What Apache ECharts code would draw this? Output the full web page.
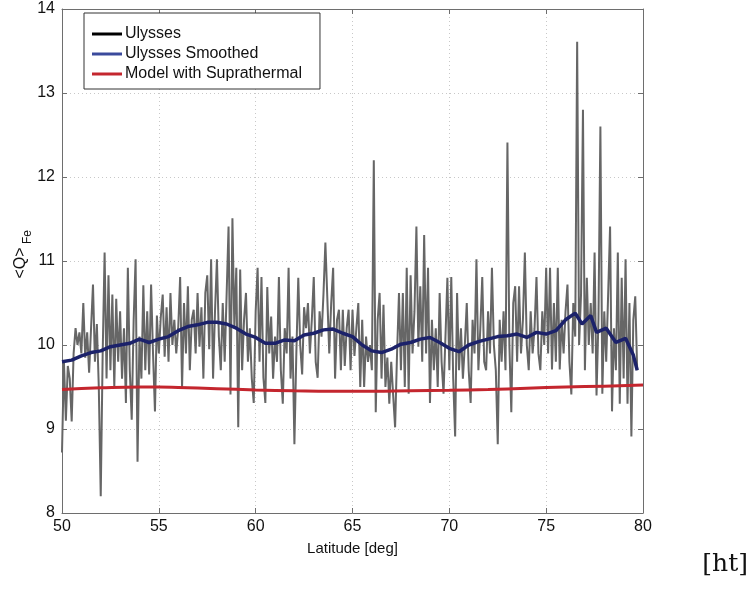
<!DOCTYPE html>
<html>
<head>
<meta charset="utf-8">
<script src="https://cdn.jsdelivr.net/npm/echarts@6/dist/echarts.min.js"></script>
<style>
  html, body { margin: 0; padding: 0; background: #fff; }
  #chart { width: 756px; height: 592px; }
</style>
</head>
<body>
<div id="chart"></div>
<script>
// Mean Fe charge state along the Ulysses trajectory, 50-80 deg latitude.

// Raw Ulysses samples: uniform latitude grid starting at 50.0 deg, 0.1 deg apart
const ulyssesLatStart = 50.0;
const ulyssesLatStep = 0.1;
const ulyssesQ = [
  8.72, 9.80, 9.10, 9.75, 9.60, 9.09, 9.90, 10.20, 10.00, 10.15,
  9.90, 10.50, 9.85, 10.15, 9.67, 10.20, 10.72, 9.80, 10.25, 9.50,
  8.20, 9.90, 11.10, 9.60, 10.83, 9.70, 10.60, 9.50, 10.55, 9.80,
  10.40, 9.60, 10.20, 9.31, 10.92, 9.70, 9.11, 10.30, 11.02, 8.61,
  10.10, 9.60, 10.71, 9.70, 10.40, 9.65, 10.72, 9.90, 9.21, 10.35,
  9.90, 10.33, 10.60, 9.86, 10.45, 9.80, 10.62, 10.00, 10.30, 9.90,
  10.20, 10.81, 9.50, 10.50, 9.90, 10.70, 9.70, 10.30, 10.42, 9.90,
  10.62, 9.98, 10.45, 9.60, 10.62, 10.83, 9.95, 11.02, 9.60, 10.40,
  11.02, 10.10, 9.70, 10.50, 9.80, 10.60, 11.41, 9.41, 11.51, 10.20,
  10.92, 9.02, 10.90, 9.70, 10.30, 10.62, 9.80, 10.20, 9.60, 9.31,
  10.40, 10.92, 9.80, 10.81, 9.61, 9.31, 10.69, 9.90, 10.34, 9.60,
  10.10, 9.80, 10.81, 9.70, 9.30, 10.20, 9.90, 10.92, 9.60, 10.10,
  8.82, 9.90, 10.80, 10.00, 9.65, 10.45, 10.20, 10.50, 9.90, 10.30,
  10.81, 9.80, 9.61, 10.40, 10.10, 10.60, 11.22, 11.20, 9.90, 10.50,
  10.92, 9.60, 10.30, 10.42, 9.70, 10.42, 9.75, 10.20, 10.42, 9.70,
  10.42, 9.87, 10.20, 10.50, 9.50, 10.30, 9.50, 10.10, 9.80, 10.00,
  9.70, 12.20, 9.20, 10.30, 10.62, 9.60, 10.48, 9.50, 9.85, 9.30,
  9.80, 9.40, 9.02, 9.90, 10.62, 9.70, 10.62, 9.50, 10.92, 9.42,
  10.83, 9.90, 10.40, 11.41, 9.98, 10.70, 9.80, 11.31, 9.90, 10.92,
  9.31, 10.30, 9.70, 10.20, 9.50, 10.62, 9.80, 9.42, 10.10, 10.80,
  9.70, 10.81, 9.60, 8.91, 10.62, 9.70, 10.20, 9.60, 10.00, 10.50,
  9.70, 9.31, 10.30, 9.90, 11.02, 9.70, 10.20, 10.81, 9.80, 9.70,
  10.40, 9.90, 10.92, 10.00, 9.70, 8.82, 10.30, 9.80, 10.40, 9.70,
  12.41, 10.00, 9.20, 10.50, 10.70, 9.80, 10.70, 9.90, 10.30, 11.10,
  10.00, 9.70, 10.40, 9.90, 10.20, 10.81, 9.90, 9.70, 10.40, 10.00,
  10.92, 9.90, 10.92, 9.71, 10.50, 9.80, 10.92, 9.71, 10.30, 9.90,
  10.40, 10.72, 9.80, 9.41, 10.50, 10.10, 13.61, 10.00, 10.60, 12.80,
  9.70, 10.80, 10.00, 10.50, 9.90, 11.10, 9.40, 10.30, 12.60, 9.42,
  10.40, 9.80, 10.60, 11.41, 9.21, 10.20, 9.70, 11.10, 9.30, 10.80,
  9.60, 11.02, 9.30, 10.50, 8.91, 10.30, 10.58, 9.70
];

// Running mean of the Ulysses data
const smoothLat = [
  50.0, 50.5, 51.0, 51.5, 52.0, 52.5, 53.0, 53.5, 54.0, 54.5,
  55.0, 55.5, 56.0, 56.5, 57.0, 57.5, 58.0, 58.5, 59.0, 59.5,
  60.0, 60.5, 61.0, 61.5, 62.0, 62.5, 63.0, 63.5, 64.0, 64.5,
  65.0, 65.5, 66.0, 66.5, 67.0, 67.5, 68.0, 68.5, 69.0, 69.5,
  70.0, 70.5, 71.0, 71.5, 72.0, 72.5, 73.0, 73.5, 74.0, 74.5,
  75.0, 75.5, 76.0, 76.5, 76.85, 77.3, 77.6, 78.1, 78.6, 79.1,
  79.5, 79.7
];
const smoothQ = [
  9.80, 9.82, 9.87, 9.91, 9.93, 9.98, 10.00, 10.02, 10.07, 10.03,
  10.07, 10.10, 10.17, 10.22, 10.24, 10.27, 10.27, 10.25, 10.20, 10.13,
  10.09, 10.02, 10.02, 10.06, 10.05, 10.12, 10.14, 10.18, 10.19, 10.14,
  10.10, 10.00, 9.93, 9.91, 9.95, 10.01, 10.03, 10.07, 10.09, 10.03,
  9.96, 9.92, 10.00, 10.04, 10.07, 10.10, 10.11, 10.13, 10.09, 10.15,
  10.13, 10.17, 10.30, 10.38, 10.25, 10.35, 10.15, 10.20, 10.03, 10.08,
  9.88, 9.70
];

// Model prediction including a suprathermal population
const modelLat = [50, 52, 54, 55, 56, 58, 60, 62, 64, 66, 68, 70, 72, 74, 76, 78, 80];
const modelQ = [9.47, 9.49, 9.50, 9.50, 9.495, 9.48, 9.465, 9.455, 9.45, 9.45, 9.455, 9.46, 9.47, 9.485, 9.50, 9.51, 9.525];

// Axis ranges and tick spacing
const xTicks = { min: 50, max: 80, interval: 5 };
const yTicks = { min: 8, max: 14, interval: 1 };

const ulyssesData = ulyssesQ.map((q, i) => [ulyssesLatStart + i * ulyssesLatStep, q]);
const smoothData = smoothLat.map((lat, i) => [lat, smoothQ[i]]);
const modelData = modelLat.map((lat, i) => [lat, modelQ[i]]);

const FONT = 'Liberation Sans, Arial, sans-serif';
const AXIS_COLOR = '#6e6e6e';

const chart = echarts.init(document.getElementById('chart'), null, { renderer: 'canvas' });

const boxAxis = {
  axisLine: { show: true, onZero: false, lineStyle: { color: AXIS_COLOR, width: 1 } },
  axisTick: { show: true, inside: true, length: 5, lineStyle: { color: AXIS_COLOR } },
  axisLabel: { show: false },
  splitLine: { show: false }
};

// legend swatch: plain line segment in the given colour
function legendEntry(name, color, width) {
  return { name: name, icon: 'rect', itemStyle: { color: color }, lineStyle: { color: color, width: width } };
}

chart.setOption({
  animation: false,
  backgroundColor: '#ffffff',
  grid: { left: 62, right: 113, top: 9, bottom: 79, containLabel: false },
  legend: {
    orient: 'vertical',
    left: 84,
    top: 13,
    padding: [13, 18, 7, 8],
    itemGap: 4,
    itemWidth: 30,
    itemHeight: 3,
    borderColor: '#333333',
    borderWidth: 1,
    backgroundColor: '#ffffff',
    textStyle: { fontFamily: FONT, fontSize: 16, color: '#111111', padding: [0, 0, 0, -2] },
    data: [
      legendEntry('Ulysses', '#000000', 2),
      legendEntry('Ulysses Smoothed', '#3b4a9c', 3),
      legendEntry('Model with Suprathermal', '#c4262e', 3)
    ]
  },
  xAxis: [
    {
      type: 'value',
      min: xTicks.min, max: xTicks.max, interval: xTicks.interval,
      name: 'Latitude [deg]',
      nameLocation: 'middle',
      nameGap: 28,
      nameTextStyle: { fontFamily: FONT, fontSize: 15, color: '#111111' },
      axisLine: { show: true, onZero: false, lineStyle: { color: AXIS_COLOR, width: 1 } },
      axisTick: { show: true, inside: true, length: 5, lineStyle: { color: AXIS_COLOR } },
      axisLabel: { fontFamily: FONT, fontSize: 16, color: '#111111', margin: 6 },
      splitLine: { show: true, lineStyle: { color: '#c8c8c8', type: [1, 3], width: 1 } }
    },
    Object.assign({}, boxAxis, {
      type: 'value', position: 'top',
      min: xTicks.min, max: xTicks.max, interval: xTicks.interval
    })
  ],
  yAxis: [
    {
      type: 'value',
      min: yTicks.min, max: yTicks.max, interval: yTicks.interval,
      axisLine: { show: true, onZero: false, lineStyle: { color: AXIS_COLOR, width: 1 } },
      axisTick: { show: true, inside: true, length: 5, lineStyle: { color: AXIS_COLOR } },
      axisLabel: { fontFamily: FONT, fontSize: 16, color: '#111111', margin: 7 },
      splitLine: { show: true, lineStyle: { color: '#c8c8c8', type: [1, 3], width: 1 } }
    },
    Object.assign({}, boxAxis, {
      type: 'value', position: 'right',
      min: yTicks.min, max: yTicks.max, interval: yTicks.interval
    })
  ],
  graphic: [
    {
      type: 'text', x: 21, y: 263, rotation: Math.PI / 2,
      style: { text: '<Q>', fontFamily: FONT, fontSize: 16, fill: '#111111',
               align: 'center', verticalAlign: 'middle' }
    },
    {
      type: 'text', x: 28, y: 237, rotation: Math.PI / 2,
      style: { text: 'Fe', fontFamily: FONT, fontSize: 12, fill: '#111111',
               align: 'center', verticalAlign: 'middle' }
    },
    {
      type: 'text', right: 8, top: 552,
      style: { text: '[ht]', fontFamily: 'DejaVu Serif, Liberation Serif, serif', fontSize: 25, fill: '#111111' }
    }
  ],
  series: [
    {
      name: 'Ulysses', type: 'line', data: ulyssesData,
      showSymbol: false, symbol: 'none',
      lineStyle: { color: '#666666', width: 2 },
      itemStyle: { color: '#666666' },
      z: 2
    },
    {
      name: 'Ulysses Smoothed', type: 'line', data: smoothData,
      showSymbol: false, symbol: 'none',
      lineStyle: { color: '#1c226a', width: 3.5 },
      itemStyle: { color: '#1c226a' },
      z: 3
    },
    {
      name: 'Model with Suprathermal', type: 'line', data: modelData,
      smooth: true, showSymbol: false, symbol: 'none',
      lineStyle: { color: '#c4262e', width: 3 },
      itemStyle: { color: '#c4262e' },
      z: 4
    }
  ]
});
</script>
</body>
</html>
